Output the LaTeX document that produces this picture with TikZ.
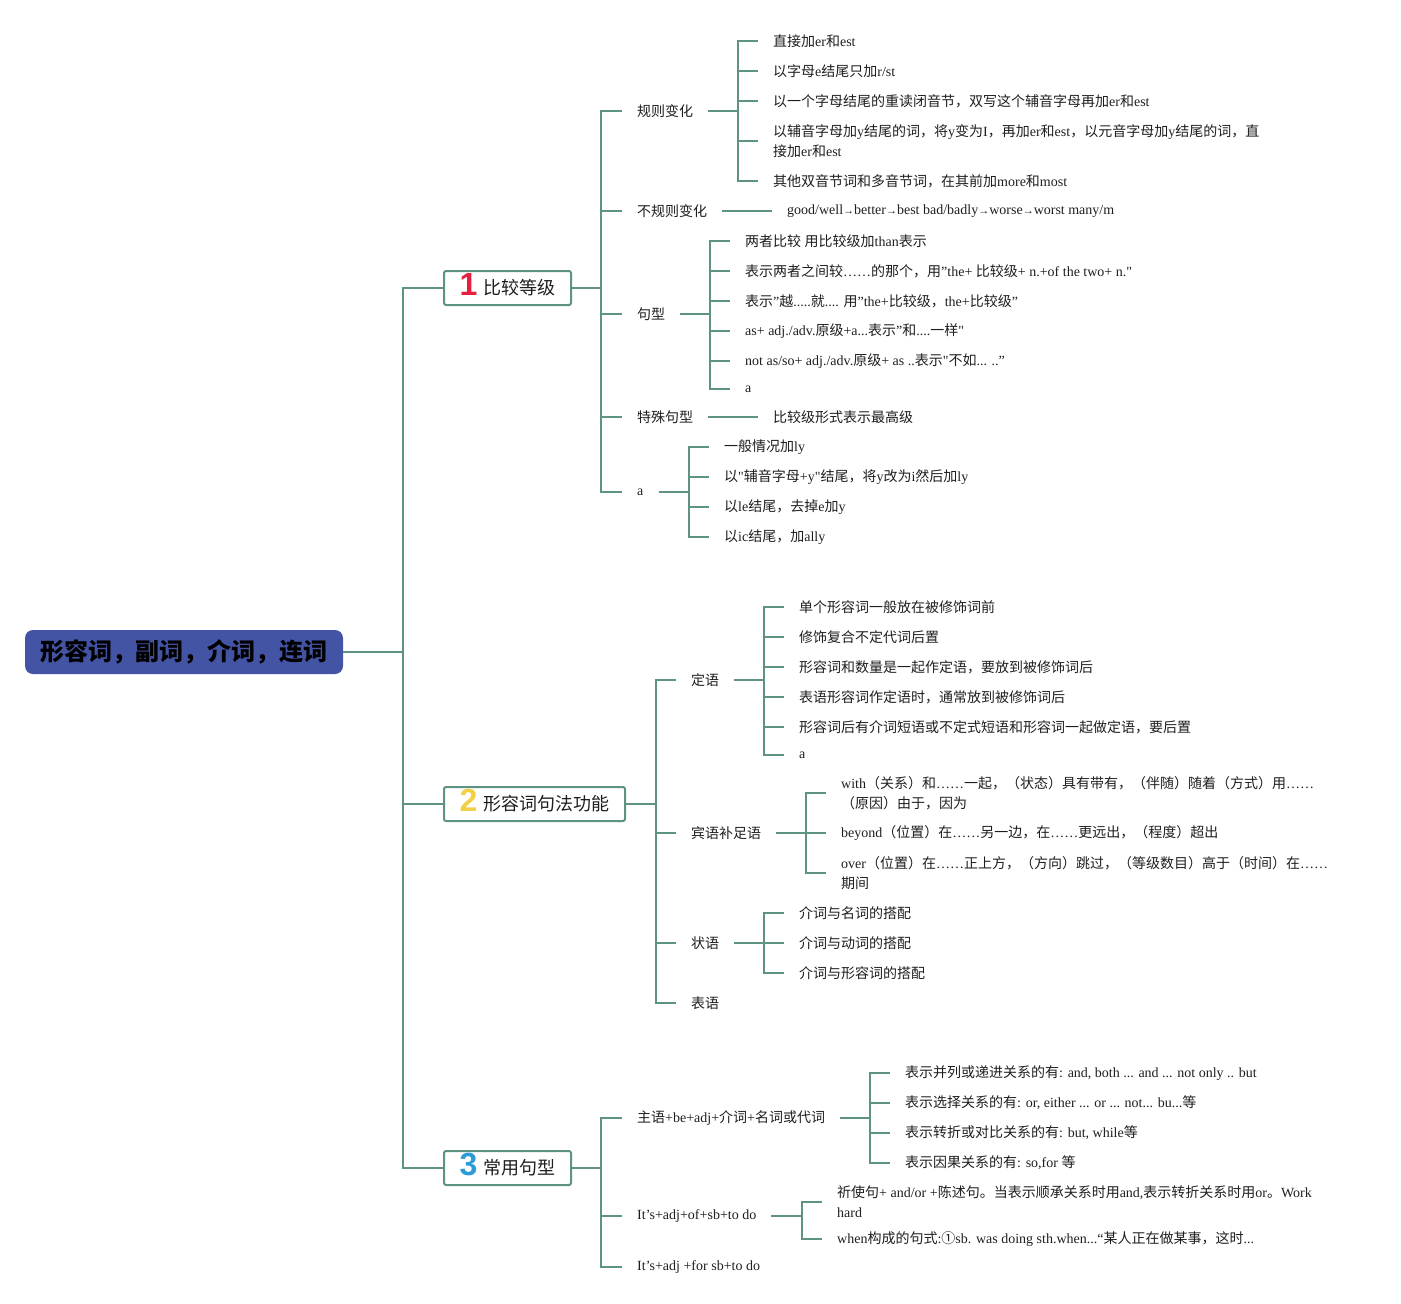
\documentclass[tikz,border=0pt]{standalone}
\usepackage{fontspec}
\setmainfont{Liberation Serif}[Ligatures=TeXOff]
\newfontfamily\cjkfont{Noto Sans CJK SC}
\newfontfamily\numfont{Liberation Sans}
\newXeTeXintercharclass\mycjk
\newcount\mycnt
\newcommand\setcjkrange[2]{\mycnt=#1\relax\loop\XeTeXcharclass\mycnt=\mycjk\relax\advance\mycnt by 1\relax\ifnum\mycnt<#2\relax\repeat}
\setcjkrange{"4E00}{"A000}
\setcjkrange{"3000}{"3040}
\setcjkrange{"FF00}{"FFF0}
\setcjkrange{"2460}{"2500}
\XeTeXinterchartokenstate=1
\XeTeXinterchartoks 0 \mycjk = {\cjkfont}
\XeTeXinterchartoks 4095 \mycjk = {\cjkfont}
\XeTeXinterchartoks \mycjk 0 = {\rmfamily}
\XeTeXinterchartoks \mycjk 4095 = {\rmfamily}
\definecolor{lc}{HTML}{5E9282}
\definecolor{rootc}{HTML}{4354A5}
\definecolor{tc}{HTML}{1E1E1E}
\definecolor{numred}{HTML}{E4203F}
\definecolor{numyel}{HTML}{F3CF45}
\definecolor{numblu}{HTML}{2B9CD8}
\newcommand\boxfont{\XeTeXinterchartokenstate=0 \cjkfont\fontsize{18}{22}\selectfont}
\newcommand\rootfont{\XeTeXinterchartokenstate=0 \cjkfont\bfseries\fontsize{24}{28}\selectfont}
\newcommand\bignum[2]{\smash{\raisebox{-1pt}{\numfont\bfseries\fontsize{32}{32}\selectfont\color{#1}#2}}}
\newcommand\arr{{\fontsize{11}{11}\selectfont →}}
\tikzset{
  ln/.style={draw=lc, line width=2pt},
  txt/.style={anchor=west, inner xsep=15pt, inner ysep=1pt, align=left, text=tc, font=\fontsize{14}{20}\selectfont},
  lvbox/.style={draw=lc, line width=2pt, fill=white, rounded corners=2pt, minimum height=34pt, inner sep=0pt, text height=15pt, text depth=2pt, text=tc, font=\boxfont},
  rootbox/.style={fill=rootc, rounded corners=8pt, minimum width=318pt, minimum height=44pt, inner sep=0pt, text=black, font=\rootfont}
}
\begin{document}
\begin{tikzpicture}[x=1pt,y=-1pt]
\useasboundingbox (0,0) rectangle (1401,1304);
% bar coordinates
\coordinate (T) at (403,0);
\coordinate (B1) at (601,0);
\coordinate (B2) at (656,0);
\coordinate (B3) at (601,0);
\coordinate (G11) at (738,0);
\coordinate (G13) at (710,0);
\coordinate (G15) at (689,0);
\coordinate (G21) at (764,0);
\coordinate (G22) at (806,0);
\coordinate (G23) at (764,0);
\coordinate (G31) at (870,0);
\coordinate (G32) at (802,0);
% root and level 1
\node[rootbox] (r) at (184,652) {形容词，副词，介词，连词};
\node[lvbox, minimum width=127pt] (b1) at (507.5,288) {\bignum{numred}{1}\hspace{6pt}比较等级};
\node[lvbox, minimum width=181pt] (b2) at (534.5,804) {\bignum{numyel}{2}\hspace{6pt}形容词句法功能};
\node[lvbox, minimum width=127pt] (b3) at (507.5,1168) {\bignum{numblu}{3}\hspace{6pt}常用句型};
% group 1
\node[txt] (n11) at (622,111) {规则变化};
\node[txt] (n12) at (622,211) {不规则变化};
\node[txt] (n13) at (622,314) {句型};
\node[txt] (n14) at (622,417) {特殊句型};
\node[txt] (n15) at (622,492) {a};
\node[txt] (n111) at (758,41) {直接加er和est};
\node[txt] (n112) at (758,71) {以字母e结尾只加r/st};
\node[txt] (n113) at (758,101) {以一个字母结尾的重读闭音节，双写这个辅音字母再加er和est};
\node[txt] (n114) at (758,141) {以辅音字母加y结尾的词，将y变为I，再加er和est，以元音字母加y结尾的词，直\\接加er和est};
\node[txt] (n115) at (758,181) {其他双音节词和多音节词，在其前加more和most};
\node[txt] (n121) at (772,211) {good/well\arr better\arr best bad/badly\arr worse\arr worst many/m};
\node[txt] (n131) at (730,241) {两者比较 用比较级加than表示};
\node[txt] (n132) at (730,271) {表示两者之间较……的那个，用”the+ 比较级+ n.+of the two+ n."};
\node[txt] (n133) at (730,301) {表示”越.....就.... 用”the+比较级，the+比较级”};
\node[txt] (n134) at (730,331) {as+ adj./adv.原级+a...表示”和....一样"};
\node[txt] (n135) at (730,361) {not as/so+ adj./adv.原级+ as ..表示"不如... ..”};
\node[txt] (n136) at (730,389) {a};
\node[txt] (n141) at (758,417) {比较级形式表示最高级};
\node[txt] (n151) at (709,447) {一般情况加ly};
\node[txt] (n152) at (709,477) {以"辅音字母+y"结尾，将y改为i然后加ly};
\node[txt] (n153) at (709,507) {以le结尾，去掉e加y};
\node[txt] (n154) at (709,537) {以ic结尾，加ally};
% group 2
\node[txt] (n21) at (676,680) {定语};
\node[txt] (n22) at (676,833) {宾语补足语};
\node[txt] (n23) at (676,943) {状语};
\node[txt] (n24) at (676,1003) {表语};
\node[txt] (n211) at (784,607) {单个形容词一般放在被修饰词前};
\node[txt] (n212) at (784,637) {修饰复合不定代词后置};
\node[txt] (n213) at (784,667) {形容词和数量是一起作定语，要放到被修饰词后};
\node[txt] (n214) at (784,697) {表语形容词作定语时，通常放到被修饰词后};
\node[txt] (n215) at (784,727) {形容词后有介词短语或不定式短语和形容词一起做定语，要后置};
\node[txt] (n216) at (784,755) {a};
\node[txt] (n221) at (826,793) {with（关系）和……一起，（状态）具有带有，（伴随）随着（方式）用……\\（原因）由于，因为};
\node[txt] (n222) at (826,833) {beyond（位置）在……另一边，在……更远出，（程度）超出};
\node[txt] (n223) at (826,873) {over（位置）在……正上方，（方向）跳过，（等级数目）高于（时间）在……\\期间};
\node[txt] (n231) at (784,913) {介词与名词的搭配};
\node[txt] (n232) at (784,943) {介词与动词的搭配};
\node[txt] (n233) at (784,973) {介词与形容词的搭配};
% group 3
\node[txt] (n31) at (622,1118) {主语+be+adj+介词+名词或代词};
\node[txt] (n32) at (622,1216) {It’s+adj+of+sb+to do};
\node[txt] (n33) at (622,1267) {It’s+adj +for sb+to do};
\node[txt] (n311) at (890,1073) {表示并列或递进关系的有: and, both ... and ... not only .. but};
\node[txt] (n312) at (890,1103) {表示选择关系的有: or, either ... or ... not... bu...等};
\node[txt] (n313) at (890,1133) {表示转折或对比关系的有: but, while等};
\node[txt] (n314) at (890,1163) {表示因果关系的有: so,for 等};
\node[txt] (n321) at (822,1202) {祈使句+ and/or +陈述句。当表示顺承关系时用and,表示转折关系时用or。Work\\hard};
\node[txt] (n322) at (822,1239) {when构成的句式:①sb. was doing sth.when...“某人正在做某事，这时...};
% connectors
\foreach \c in {b1,b2,b3} \draw[ln] (r.east) -- (r.east -| T) |- (\c.west);
\foreach \c in {n11,n12,n13,n14,n15} \draw[ln] (b1.east) -- (b1.east -| B1) |- (\c.west);
\foreach \c in {n21,n22,n23,n24} \draw[ln] (b2.east) -- (b2.east -| B2) |- (\c.west);
\foreach \c in {n31,n32,n33} \draw[ln] (b3.east) -- (b3.east -| B3) |- (\c.west);
\foreach \c in {n111,n112,n113,n114,n115} \draw[ln] (n11.east) -- (n11.east -| G11) |- (\c.west);
\draw[ln] (n12.east) -- (n121.west);
\foreach \c in {n131,n132,n133,n134,n135,n136} \draw[ln] (n13.east) -- (n13.east -| G13) |- (\c.west);
\draw[ln] (n14.east) -- (n141.west);
\foreach \c in {n151,n152,n153,n154} \draw[ln] (n15.east) -- (n15.east -| G15) |- (\c.west);
\foreach \c in {n211,n212,n213,n214,n215,n216} \draw[ln] (n21.east) -- (n21.east -| G21) |- (\c.west);
\foreach \c in {n221,n222,n223} \draw[ln] (n22.east) -- (n22.east -| G22) |- (\c.west);
\foreach \c in {n231,n232,n233} \draw[ln] (n23.east) -- (n23.east -| G23) |- (\c.west);
\foreach \c in {n311,n312,n313,n314} \draw[ln] (n31.east) -- (n31.east -| G31) |- (\c.west);
\foreach \c in {n321,n322} \draw[ln] (n32.east) -- (n32.east -| G32) |- (\c.west);
\end{tikzpicture}
\end{document}
